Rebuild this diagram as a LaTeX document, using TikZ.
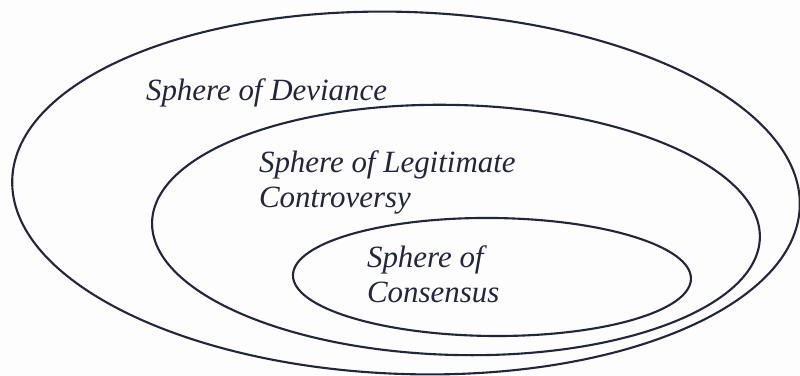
\documentclass[tikz,border=0pt]{standalone}
\usepackage{fontspec}
\setmainfont{Liberation Serif}
\usepackage{xcolor}
\definecolor{Paper}{HTML}{FDFDFE}
\definecolor{Ink}{HTML}{23253C}

\begin{document}
\begin{tikzpicture}[x=0.025cm,y=-0.025cm,line width=1.5pt,
  every node/.style={text=Ink,font=\itshape\fontsize{22}{24.2}\selectfont,inner sep=0pt,align=left,anchor=base west}]
\fill[Paper] (0,0) rectangle (800,375);
\useasboundingbox (0,0) rectangle (800,375);
\coordinate (D) at (406,193);\coordinate (L) at (456,230);\coordinate (C) at (492,277);
\draw[Ink,rotate around={-2:(D)}] (D) ellipse (394 and 181);
\draw[Ink,rotate around={-1.5:(L)}] (L) ellipse (304 and 125);
\draw[Ink,rotate around={-0.5:(C)}] (C) ellipse (199 and 59);
% base anchor sits on the last line
\node (deviance) at (145,100) {Sphere of Deviance};
\node (legit) at (258,207) {Sphere of Legitimate\\Controversy};
\node (consensus) at (366,302) {Sphere of\\Consensus};
\end{tikzpicture}
\end{document}
